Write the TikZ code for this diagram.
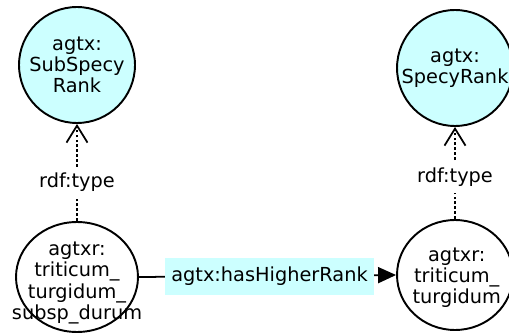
\documentclass[tikz,border=0pt]{standalone}
\usepackage{fontspec}
\setmainfont{DejaVu Sans}
\usepackage{tikz}
\usetikzlibrary{arrows.meta}
\usetikzlibrary{shapes.geometric}
\definecolor{classcyan}{RGB}{204,255,255}
\tikzset{
classnode/.style={shape=circle, draw=black, line width=1.1pt, fill=classcyan, inner sep=0pt, minimum size=2.32cm, align=center},
resnode/.style={shape=ellipse, draw=black, line width=1.1pt, inner sep=0pt},
typeedge/.style={dash pattern=on 1.6pt off 1.2pt, line width=1pt, -{Straight Barb[length=3.4mm,width=4.2mm]}}}

\begin{document}
\begin{tikzpicture}[x=0.02cm, y=-0.02cm, font=\fontsize{11pt}{12pt}\selectfont]
    
                \useasboundingbox (0,0) rectangle (509,334);
                \node[classnode] (S) at (77,65) {agtx:\\SubSpecy\\Rank};
                \node[classnode] (R) at (455,68) {agtx:\\SpecyRank};
                \node[resnode, minimum width=2.44cm, minimum height=2.2cm, label={[align=center, yshift=-3.4pt]center:agtxr:\\triticum\_\\turgidum\_\\subsp\_durum}] (D) at (77,277) {};
                \node[resnode, minimum width=2.32cm, minimum height=2.2cm, label={[align=center, yshift=-1.5pt, xshift=1pt]center:agtxr:\\triticum\_\\turgidum}] (T) at (455,275) {};
            
                \draw[typeedge] (D) -- (S) node[pos=0.4, fill=white, solid] {rdf:type};
                \draw[typeedge] (T) -- (R) node[pos=0.45, fill=white, solid] {rdf:type};
                \draw[line width=1pt, -{Triangle[length=3.6mm,width=3.2mm]}] (D.east) -- (T.west) node[midway, xshift=0.04cm, fill=classcyan, minimum width=4.18cm, minimum height=0.74cm] {agtx:hasHigherRank};
        
            \end{tikzpicture}
\end{document}
